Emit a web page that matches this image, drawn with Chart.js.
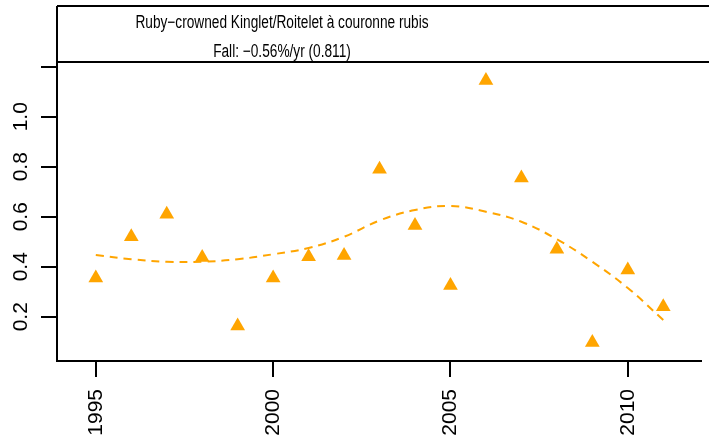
<!DOCTYPE html>
<html>
<head>
<meta charset="utf-8">
<script src="https://cdn.jsdelivr.net/npm/chart.js@4/dist/chart.umd.min.js"></script>
<style>
  html, body { margin: 0; padding: 0; background: #fff; }
  #wrap { width: 709px; height: 442px; }
</style>
</head>
<body>
<div id="wrap"><canvas id="chart" width="709" height="442"></canvas></div>
<script>
// data
const years = [1995, 1996, 1997, 1998, 1999, 2000, 2001, 2002, 2003, 2004, 2005, 2006, 2007, 2008, 2009, 2010, 2011];
const counts = [0.355, 0.52, 0.61, 0.437, 0.163, 0.355, 0.44, 0.445, 0.79, 0.565, 0.325, 1.145, 0.755, 0.47, 0.097, 0.387, 0.24];
const trend = [0.447, 0.43, 0.42, 0.42, 0.43, 0.45, 0.475, 0.52, 0.585, 0.627, 0.643, 0.62, 0.58, 0.51, 0.42, 0.315, 0.187];
const titleLines = ['Ruby\u2212crowned Kinglet/Roitelet \u00e0 couronne rubis', 'Fall: \u22120.56%/yr (0.811)'];

const orange = '#FFA500';
const axisFont = '21px "Liberation Sans", Arial, sans-serif';

// plot frame + title box (R style, right side runs off the picture)
const framePlugin = {
  id: 'frame',
  afterDraw(chart) {
    const ctx = chart.ctx;
    const a = chart.chartArea;
    ctx.save();
    ctx.strokeStyle = '#000';
    ctx.lineWidth = 2;
    ctx.beginPath();
    ctx.moveTo(a.left, a.top);
    ctx.lineTo(chart.width, a.top);
    ctx.moveTo(a.left, 6);
    ctx.lineTo(chart.width, 6);
    ctx.moveTo(a.left, 6);
    ctx.lineTo(a.left, a.top);
    ctx.stroke();

    // title text, condensed like the original
    ctx.fillStyle = '#000';
    ctx.font = '18px "Liberation Sans", Arial, sans-serif';
    ctx.textAlign = 'center';
    ctx.textBaseline = 'alphabetic';
    [[titleLines[0], 28], [titleLines[1], 57]].forEach(([txt, ty]) => {
      ctx.save();
      ctx.translate(282, ty);
      ctx.scale(0.76, 1);
      ctx.fillText(txt, 0, 0);
      ctx.restore();
    });

    // rotated y tick labels
    const y = chart.scales.y;
    ctx.font = axisFont;
    y.ticks.forEach(t => {
      if (t.value > 1.1) return;
      const py = y.getPixelForValue(t.value);
      ctx.save();
      ctx.translate(27, py);
      ctx.rotate(-Math.PI / 2);
      ctx.fillText(t.value.toFixed(1), 0, 0);
      ctx.restore();
    });
    ctx.restore();
  }
};

const ctx = document.getElementById('chart').getContext('2d');
new Chart(ctx, {
  type: 'scatter',
  data: {
    datasets: [
      {
        type: 'line',
        data: years.map((yr, i) => ({ x: yr, y: trend[i] })),
        borderColor: orange,
        borderWidth: 2,
        borderDash: [8, 6],
        pointRadius: 0,
        tension: 0.4,
        fill: false
      },
      {
        data: years.map((yr, i) => ({ x: yr, y: counts[i] })),
        pointStyle: 'triangle',
        pointRadius: 8.5,
        pointHoverRadius: 8.5,
        backgroundColor: orange,
        borderWidth: 0
      }
    ]
  },
  options: {
    responsive: false,
    animation: false,
    events: [],
    layout: { padding: { top: 62, left: 0, right: 0, bottom: 0 } },
    plugins: {
      legend: { display: false },
      tooltip: { enabled: false }
    },
    scales: {
      x: {
        type: 'linear',
        min: 1993.906,
        max: 2012.05,
        afterFit: s => { s.height = 81; },
        border: { display: true, color: '#000', width: 2 },
        grid: { display: true, drawOnChartArea: false, drawTicks: true, tickLength: 16, color: '#000', lineWidth: 2 },
        ticks: {
          stepSize: 5,
          includeBounds: false,
          autoSkip: false,
          minRotation: 90,
          maxRotation: 90,
          padding: 12,
          color: '#000',
          font: { family: '"Liberation Sans", Arial, sans-serif', size: 21 },
          callback: v => String(v)
        }
      },
      y: {
        type: 'linear',
        min: 0.023,
        max: 1.219,
        afterFit: s => { s.width = 57; },
        border: { display: true, color: '#000', width: 2 },
        grid: { display: true, drawOnChartArea: false, drawTicks: true, tickLength: 16, color: '#000', lineWidth: 2 },
        ticks: {
          stepSize: 0.2,
          includeBounds: false,
          display: false
        }
      }
    }
  },
  plugins: [framePlugin]
});
</script>
</body>
</html>
